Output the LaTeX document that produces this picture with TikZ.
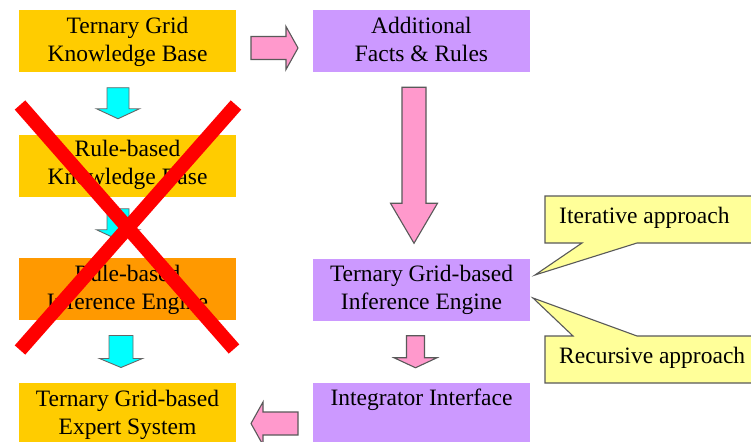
\documentclass[tikz,border=0pt]{standalone}
\usepackage{fontspec}
\setmainfont{Liberation Serif}
\usetikzlibrary{calc}

\definecolor{boxgold}{HTML}{FFCC00}
\definecolor{boxorange}{HTML}{FF9900}
\definecolor{boxviolet}{HTML}{CC99FF}
\definecolor{arrowpink}{HTML}{FF99CC}
\definecolor{arrowcyan}{HTML}{00FFFF}
\definecolor{notefill}{HTML}{FFFF99}
\definecolor{crossred}{HTML}{FF0000}

\tikzset{
  box/.style={rectangle, inner sep=0pt, minimum width=217pt, minimum height=62pt},
  goldbox/.style={box, fill=boxgold},
  orangebox/.style={box, fill=boxorange},
  violetbox/.style={box, fill=boxviolet},
  boxtext/.style={inner sep=0pt, align=center,
    font=\fontsize{23.5}{28}\selectfont,
    execute at begin node=\strut, execute at end node=\strut},
  notetext/.style={inner sep=0pt, anchor=base west,
    font=\fontsize{23.5}{28}\selectfont},
  pinkarrow/.style={fill=arrowpink, draw=black!65, line width=1.1pt, line join=miter},
  cyanarrow/.style={fill=arrowcyan, draw=black!60, line width=0.9pt, line join=miter},
  crossline/.style={draw=crossred, line width=14pt, line cap=butt},
  note/.style={fill=notefill, draw=black!65, line width=1.1pt, line join=miter},
  % block arrow pointing along +x: length / half shaft / half head / head length
  pics/blockarrow/.style args={#1/#2/#3/#4}{code={
    \path[pic actions]
      ({-#1/2},{-#2}) -- ({#1/2-#4},{-#2}) -- ({#1/2-#4},{-#3})
      -- ({#1/2},0) -- ({#1/2-#4},{#3}) -- ({#1/2-#4},{#2})
      -- ({-#1/2},{#2}) -- cycle;
  }},
}

\begin{document}
\begin{tikzpicture}[x=1pt, y=-1pt]
\path[use as bounding box, clip] (0,0) rectangle (751,441);
\fill[white] (0,0) rectangle (751,441);

% left column
\node[goldbox]   (kb)  at (127.5,41)    {};
\node[goldbox]   (rkb) at (127.5,165.5) {};
\node[orangebox] (rie) at (127.5,289)   {};
\node[goldbox, minimum height=77pt] (es) at (127.5,421.5) {};

% right column
\node[violetbox] (afr) at (421.5,41)    {};
\node[violetbox] (tie) at (421.5,289.5) {};
\node[violetbox, minimum height=77pt] (ii) at (421.5,421.5) {};

% box texts
\node[boxtext] (kb-t)  at (127.5,43.5)  {Ternary Grid\\Knowledge Base};
\node[boxtext] (rkb-t) at (127.5,166.4) {Rule-based\\Knowledge Base};
\node[boxtext] (rie-t) at (127.5,291.4) {Rule-based\\Inference Engine};
\node[boxtext] (es-t)  at (127.5,416.4) {Ternary Grid-based\\Expert System};
\node[boxtext] (afr-t) at (421.5,43.5)  {Additional\\Facts \& Rules};
\node[boxtext] (tie-t) at (421.5,291.4) {Ternary Grid-based\\Inference Engine};
\node[boxtext] (ii-t)  at (421.5,399.4) {Integrator Interface};

% block arrows between the boxes
\pic[pinkarrow] at ($(kb.east)!0.5!(afr.west)+(0,7)$) {blockarrow=47/11.5/21.5/12};
\pic[cyanarrow, rotate=-90] at ($(kb.south)!0.5!(rkb.north)+(-9.5,0)$) {blockarrow=31/11/21.5/10};
\pic[cyanarrow, rotate=-90] at ($(rkb.south)!0.5!(rie.north)+(-9.5,-3)$) {blockarrow=31/11/21.5/10};
\pic[cyanarrow, rotate=-90] at ($(rie.south)!0.5!(es.north)+(-6.5,0)$) {blockarrow=32/12/21.5/9};
\pic[pinkarrow, rotate=-90] at ($(afr.south)!0.5!(tie.north)+(-7.5,0)$) {blockarrow=156/12/23.5/40};
\pic[pinkarrow, rotate=-90] at ($(tie.south)!0.5!(ii.north)+(-6,0)$) {blockarrow=32/9/21.5/10};
\pic[pinkarrow, rotate=180] at ($(es.east)!0.5!(ii.west)+(0,2)$) {blockarrow=47/11.5/21.5/12};

% the cross over the rule-based path
\coordinate (x1a) at (20,105);
\coordinate (x1b) at (234,349);
\coordinate (x2a) at (236,105);
\coordinate (x2b) at (20,350);
\draw[crossline] (x1a) -- (x1b);
\draw[crossline] (x2a) -- (x2b);

% callouts pointing at the inference engine
\coordinate (itip) at (535,275);
\coordinate (rtip) at (533,298);
\path[note] (545,196) -- (770,196) -- (770,243) -- (637,243) -- (itip)
  -- (582,243) -- (545,243) -- cycle;
\path[note] (545,336) -- (573,336) -- (rtip) -- (637,336) -- (770,336)
  -- (770,383) -- (545,383) -- cycle;
\node[notetext] (iter) at (559,223) {Iterative approach};
\node[notetext] (recu) at (559,363) {Recursive approach};
\end{tikzpicture}
\end{document}
